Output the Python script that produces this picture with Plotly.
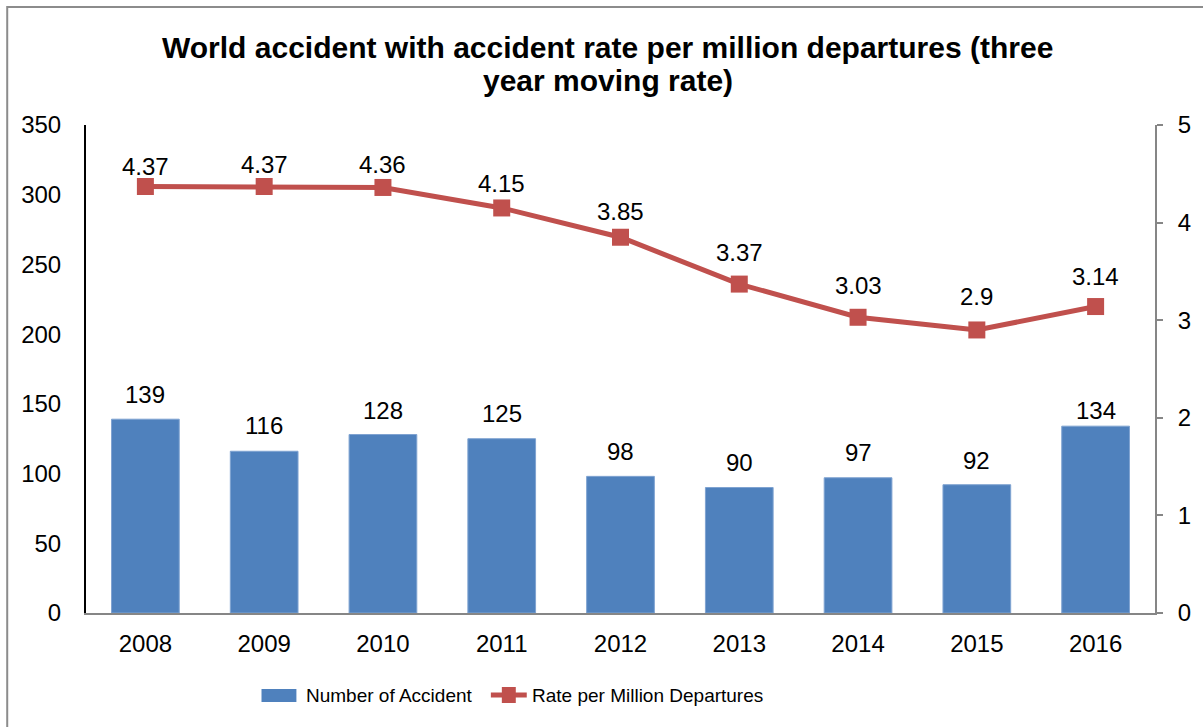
import plotly.graph_objects as go

years = ["2008", "2009", "2010", "2011", "2012", "2013", "2014", "2015", "2016"]
accidents = [139, 116, 128, 125, 98, 90, 97, 92, 134]
rate = [4.37, 4.37, 4.36, 4.15, 3.85, 3.37, 3.03, 2.9, 3.14]

# vertical lift (px) of each value label above its mark
bar_label_lift = [25, 26, 24, 25, 25, 25, 25, 24, 16]
rate_label_lift = [20, 22, 23, 24, 26, 32, 32, 33, 30]

BLUE = "#4F81BD"
RED = "#C0504D"
FONT = "Liberation Sans, Arial, sans-serif"

# plot area in pixels
L, R, T, B = 86, 45, 125, 114
W, H = 1203, 727
PW, PH = W - L - R, H - T - B


def px(x):
    return (x - L) / PW


def py(y):
    return (H - B - y) / PH


fig = go.Figure()

fig.add_trace(go.Bar(
    x=years, y=accidents, name="Number of Accident",
    marker=dict(color=BLUE, line=dict(width=1, color="#7FA3D1")),
    width=0.57, showlegend=False,
))

fig.add_trace(go.Scatter(
    x=years, y=rate, name="Rate per Million Departures", yaxis="y2",
    mode="lines+markers",
    line=dict(color=RED, width=5),
    marker=dict(symbol="square", size=17, color=RED),
    showlegend=False, cliponaxis=False,
))

annotations = []
# category axis positions are addressed by index
for i, (v, lift) in enumerate(zip(accidents, bar_label_lift)):
    annotations.append(dict(
        x=i, y=v, xref="x", yref="y", text=str(v), showarrow=False,
        yanchor="middle", yshift=lift,
        font=dict(size=24, color="black", family=FONT),
    ))
for i, (v, lift) in enumerate(zip(rate, rate_label_lift)):
    annotations.append(dict(
        x=i, y=v, xref="x", yref="y2", text=f"{v:g}", showarrow=False,
        yanchor="middle", yshift=lift,
        font=dict(size=24, color="black", family=FONT),
    ))

# two-line bold title
for txt, yc in [("World accident with accident rate per million departures (three", 47),
                ("year moving rate)", 80)]:
    annotations.append(dict(
        x=px(609), y=py(yc), xref="paper", yref="paper", text=f"<b>{txt}</b>",
        showarrow=False, xanchor="center", yanchor="middle",
        font=dict(size=30, color="black", family=FONT),
    ))

# legend labels
for txt, xl in [("Number of Accident", 305), ("Rate per Million Departures", 531)]:
    annotations.append(dict(
        x=px(xl), y=py(695), xref="paper", yref="paper", text=txt,
        showarrow=False, xanchor="left", yanchor="middle",
        font=dict(size=19, color="black", family=FONT),
    ))

shapes = [
    # outer frame
    dict(type="rect", xref="paper", yref="paper",
         x0=px(7), x1=px(1215), y0=py(740), y1=py(7),
         line=dict(color="#8C8C8C", width=2), fillcolor="rgba(0,0,0,0)",
         layer="below"),
    # legend swatches
    dict(type="rect", xref="paper", yref="paper",
         x0=px(262), x1=px(297), y0=py(702), y1=py(689),
         line=dict(width=0), fillcolor=BLUE),
    dict(type="line", xref="paper", yref="paper",
         x0=px(492), x1=px(528), y0=py(695), y1=py(695),
         line=dict(color=RED, width=5)),
    dict(type="rect", xref="paper", yref="paper",
         x0=px(503), x1=px(517), y0=py(703), y1=py(687),
         line=dict(width=0), fillcolor=RED),
]

fig.update_layout(
    width=W, height=H,
    margin=dict(l=L, r=R, t=T, b=B),
    paper_bgcolor="white", plot_bgcolor="white",
    font=dict(family=FONT, color="black"),
    showlegend=False,
    annotations=annotations,
    shapes=shapes,
    xaxis=dict(
        type="category", showgrid=False, zeroline=False,
        range=[-0.5, len(years) - 0.5],
        showline=True, linecolor="#868686", linewidth=2,
        ticks="", tickfont=dict(size=24, color="black", family=FONT),
        ticklabelstandoff=8,
    ),
    yaxis=dict(
        range=[0, 350], dtick=50, showgrid=False, zeroline=False,
        showline=True, linecolor="black", linewidth=2,
        ticks="", tickfont=dict(size=24, color="black", family=FONT),
        ticklabelstandoff=18,
    ),
    yaxis2=dict(
        range=[0, 5], dtick=1, overlaying="y", side="right",
        showgrid=False, zeroline=False,
        showline=True, linecolor="#868686", linewidth=2,
        ticks="outside", ticklen=6, tickcolor="#868686", tickwidth=2,
        tickfont=dict(size=24, color="black", family=FONT),
        ticklabelstandoff=10,
    ),
)

fig.write_html("out.html")
